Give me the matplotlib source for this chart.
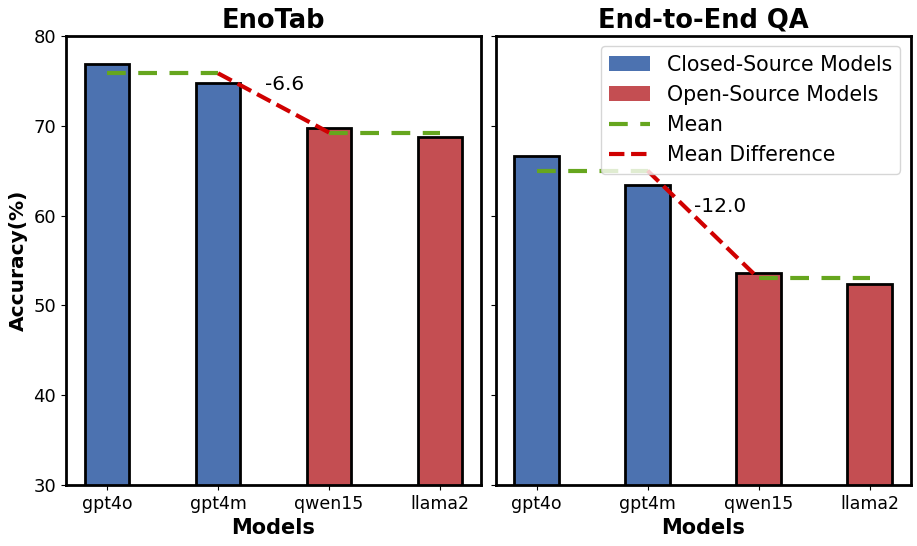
import matplotlib.pyplot as plt
import numpy as np
from matplotlib.patches import Patch
from matplotlib.lines import Line2D

models = ['gpt4o', 'gpt4m', 'qwen15', 'llama2']
enotab = [76.9, 74.8, 69.7, 68.8]
e2e_qa = [66.6, 63.4, 53.6, 52.4]
titles = ['EnoTab', 'End-to-End QA']

blue = '#4C72B0'
red = '#C44E52'
green = '#66A61E'
dred = '#D00000'
colors = [blue, blue, red, red]
mean_ls = (0, (4.5, 3))

fig, axes = plt.subplots(1, 2, figsize=(9.17, 5.46), dpi=100, sharey=True)
fig.subplots_adjust(left=0.072, right=0.993, top=0.934, bottom=0.112, wspace=0.035)

x = np.arange(len(models))
for ax, vals, title in zip(axes, [enotab, e2e_qa], titles):
    ax.bar(x, vals, width=0.4, color=colors, edgecolor='black', linewidth=2)
    closed_mean = np.mean(vals[:2])
    open_mean = np.mean(vals[2:])
    ax.plot([x[0], x[1]], [closed_mean, closed_mean], ls=mean_ls, color=green, linewidth=3)
    ax.plot([x[2], x[3]], [open_mean, open_mean], ls=mean_ls, color=green, linewidth=3)
    ax.plot([x[1], x[2]], [closed_mean, open_mean], '--', color=dred, linewidth=3)
    diff = open_mean - closed_mean
    ax.text(1.42, (closed_mean + open_mean) / 2 + 2.0, f'{diff:.1f}', fontsize=14.5, ha='left', va='center')
    ax.set_title(title, fontsize=18.5, fontweight='bold')
    ax.set_xlabel('Models', fontsize=15, fontweight='bold')
    ax.set_xticks(x)
    ax.set_xticklabels(models, fontsize=12.5)
    ax.tick_params(axis='y', labelsize=13)
    for s in ax.spines.values():
        s.set_linewidth(2)

axes[0].set_ylim(30, 80)
axes[0].set_ylabel('Accuracy(%)', fontsize=14.5, fontweight='bold')

handles = [Patch(facecolor=blue, label='Closed-Source Models'),
           Patch(facecolor=red, label='Open-Source Models'),
           Line2D([0], [0], ls=mean_ls, color=green, lw=3, label='Mean'),
           Line2D([0], [0], ls='--', color=dred, lw=3, label='Mean Difference')]
axes[1].legend(handles=handles, loc='upper right', fontsize=14.8)

plt.savefig('out.png')
